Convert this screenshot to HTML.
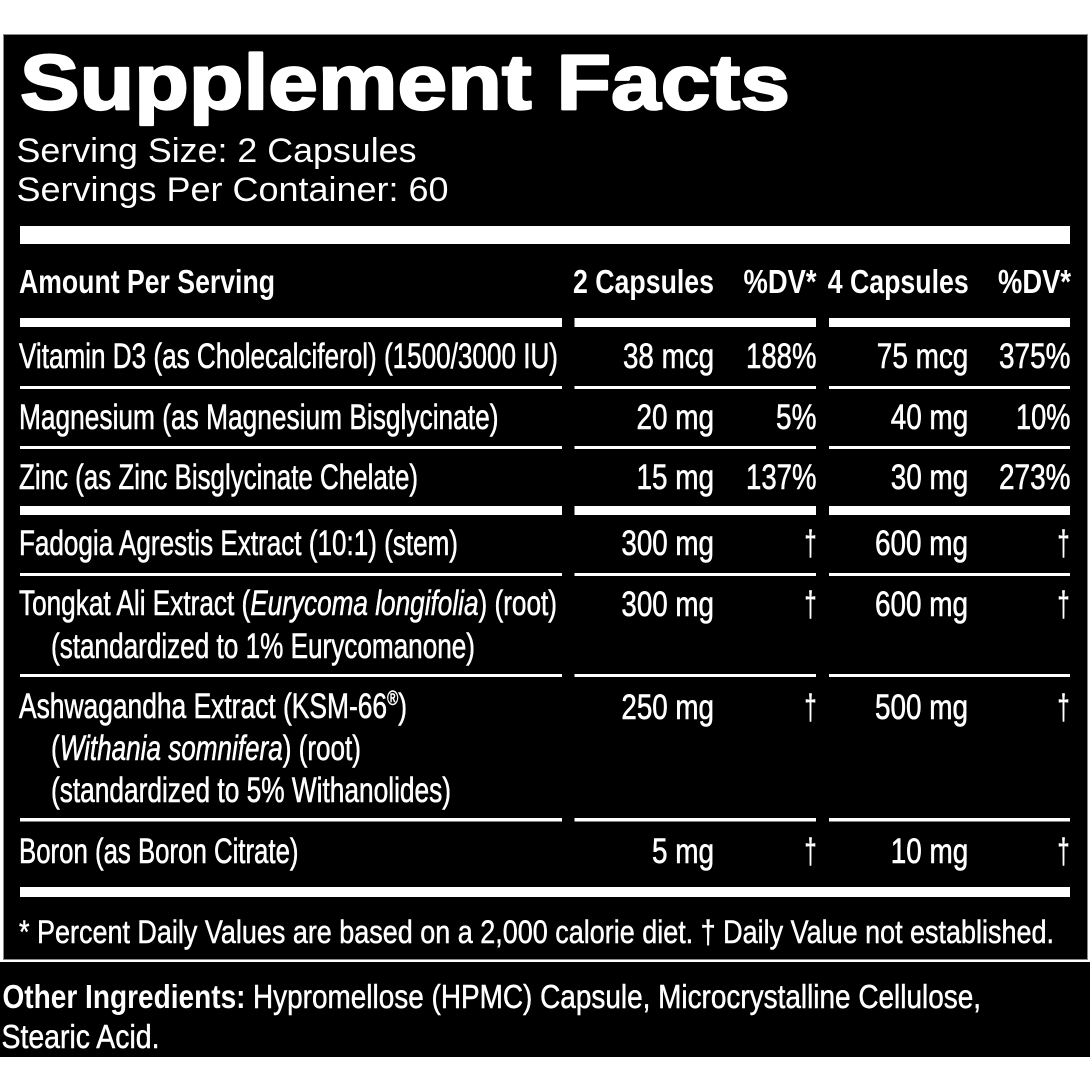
<!DOCTYPE html>
<html>
<head>
<meta charset="utf-8">
<style>
  html,body{margin:0;padding:0;background:#fff;}
  svg{display:block;}
  .c{font-family:"Liberation Sans Narrow","Liberation Sans",Arial,sans-serif;fill:#fff;}
  .r{font-size:35px;stroke:#fff;stroke-width:0.6px;}
  .f{stroke:#fff;stroke-width:0.5px;}
  .b{font-weight:bold;}
  .h{font-family:"Liberation Sans",Arial,sans-serif;fill:#fff;}
</style>
</head>
<body>
<svg width="1090" height="1090" viewBox="0 0 1090 1090" xmlns="http://www.w3.org/2000/svg">
  <rect x="0" y="0" width="1090" height="1090" fill="#fff"/>
  <rect x="3.5" y="34.5" width="1084" height="925" fill="#000" stroke="#8a8a8a" stroke-width="1"/>
  <rect x="0" y="962" width="1090" height="95" fill="#000"/>

  <text class="h" x="20" y="109" font-size="78" font-weight="bold" stroke="#fff" stroke-width="2.2" stroke-linejoin="round" textLength="770" lengthAdjust="spacingAndGlyphs">Supplement Facts</text>
  <text class="h" x="16.5" y="162" font-size="34" textLength="400" lengthAdjust="spacingAndGlyphs">Serving Size: 2 Capsules</text>
  <text class="h" x="16.5" y="201" font-size="34" textLength="432" lengthAdjust="spacingAndGlyphs">Servings Per Container: 60</text>

  <rect x="20" y="226" width="1050" height="18" fill="#fff"/>

  <text class="c b" x="19" y="293" font-size="33" textLength="256" lengthAdjust="spacingAndGlyphs">Amount Per Serving</text>
  <text class="c b" x="573" y="293" font-size="33" textLength="141" lengthAdjust="spacingAndGlyphs">2 Capsules</text>
  <text class="c b" x="743.5" y="293" font-size="33" textLength="73" lengthAdjust="spacingAndGlyphs">%DV*</text>
  <text class="c b" x="827.7" y="293" font-size="33" textLength="141" lengthAdjust="spacingAndGlyphs">4 Capsules</text>
  <text class="c b" x="998" y="293" font-size="33" textLength="73" lengthAdjust="spacingAndGlyphs">%DV*</text>

  <rect x="20" y="318" width="542" height="9" fill="#fff"/>
  <rect x="574.5" y="318" width="241.5" height="9" fill="#fff"/>
  <rect x="829" y="318" width="241" height="9" fill="#fff"/>

  <text class="c r" x="19" y="368" textLength="539" lengthAdjust="spacingAndGlyphs">Vitamin D3 (as Cholecalciferol) (1500/3000 IU)</text>
  <text class="c r" x="623" y="368" textLength="91" lengthAdjust="spacingAndGlyphs">38 mcg</text>
  <text class="c r" x="746" y="368" textLength="70.5" lengthAdjust="spacingAndGlyphs">188%</text>
  <text class="c r" x="876.8" y="368" textLength="91.5" lengthAdjust="spacingAndGlyphs">75 mcg</text>
  <text class="c r" x="999" y="368" textLength="71.5" lengthAdjust="spacingAndGlyphs">375%</text>

  <rect x="20" y="386" width="542" height="3" fill="#fff"/>
  <rect x="574.5" y="386" width="241.5" height="3" fill="#fff"/>
  <rect x="829" y="386" width="241" height="3" fill="#fff"/>

  <text class="c r" x="19" y="429" textLength="479.5" lengthAdjust="spacingAndGlyphs">Magnesium (as Magnesium Bisglycinate)</text>
  <text class="c r" x="636.5" y="429" textLength="77.5" lengthAdjust="spacingAndGlyphs">20 mg</text>
  <text class="c r" x="776" y="429" textLength="40.5" lengthAdjust="spacingAndGlyphs">5%</text>
  <text class="c r" x="890.8" y="429" textLength="77.5" lengthAdjust="spacingAndGlyphs">40 mg</text>
  <text class="c r" x="1016" y="429" textLength="54.5" lengthAdjust="spacingAndGlyphs">10%</text>

  <rect x="20" y="446" width="542" height="3" fill="#fff"/>
  <rect x="574.5" y="446" width="241.5" height="3" fill="#fff"/>
  <rect x="829" y="446" width="241" height="3" fill="#fff"/>

  <text class="c r" x="19" y="489" textLength="399" lengthAdjust="spacingAndGlyphs">Zinc (as Zinc Bisglycinate Chelate)</text>
  <text class="c r" x="636.5" y="489" textLength="77.5" lengthAdjust="spacingAndGlyphs">15 mg</text>
  <text class="c r" x="746" y="489" textLength="70.5" lengthAdjust="spacingAndGlyphs">137%</text>
  <text class="c r" x="890.8" y="489" textLength="77.5" lengthAdjust="spacingAndGlyphs">30 mg</text>
  <text class="c r" x="999" y="489" textLength="71.5" lengthAdjust="spacingAndGlyphs">273%</text>

  <rect x="20" y="506" width="542" height="9" fill="#fff"/>
  <rect x="574.5" y="506" width="241.5" height="9" fill="#fff"/>
  <rect x="829" y="506" width="241" height="9" fill="#fff"/>

  <text class="c r" x="19" y="555" textLength="439" lengthAdjust="spacingAndGlyphs">Fadogia Agrestis Extract (10:1) (stem)</text>
  <text class="c r" x="621.4" y="555" textLength="92.5" lengthAdjust="spacingAndGlyphs">300 mg</text>
  <text class="c r" x="810.5" y="555" text-anchor="middle" textLength="12" lengthAdjust="spacingAndGlyphs">†</text>
  <text class="c r" x="875" y="555" textLength="93" lengthAdjust="spacingAndGlyphs">600 mg</text>
  <text class="c r" x="1063.5" y="555" text-anchor="middle" textLength="12" lengthAdjust="spacingAndGlyphs">†</text>

  <rect x="20" y="573" width="542" height="3" fill="#fff"/>
  <rect x="574.5" y="573" width="241.5" height="3" fill="#fff"/>
  <rect x="829" y="573" width="241" height="3" fill="#fff"/>

  <text class="c r" x="19" y="615" textLength="538" lengthAdjust="spacingAndGlyphs">Tongkat Ali Extract (<tspan font-style="italic">Eurycoma longifolia</tspan>) (root)</text>
  <text class="c r" x="51" y="658" textLength="424" lengthAdjust="spacingAndGlyphs">(standardized to 1% Eurycomanone)</text>
  <text class="c r" x="621.4" y="616" textLength="92.5" lengthAdjust="spacingAndGlyphs">300 mg</text>
  <text class="c r" x="810.5" y="616" text-anchor="middle" textLength="12" lengthAdjust="spacingAndGlyphs">†</text>
  <text class="c r" x="875" y="616" textLength="93" lengthAdjust="spacingAndGlyphs">600 mg</text>
  <text class="c r" x="1063.5" y="616" text-anchor="middle" textLength="12" lengthAdjust="spacingAndGlyphs">†</text>

  <rect x="20" y="674" width="542" height="3" fill="#fff"/>
  <rect x="574.5" y="674" width="241.5" height="3" fill="#fff"/>
  <rect x="829" y="674" width="241" height="3" fill="#fff"/>

  <text class="c r" x="19" y="718" textLength="388" lengthAdjust="spacingAndGlyphs">Ashwagandha Extract (KSM-66<tspan font-size="20" dy="-13">®</tspan><tspan dy="13">)</tspan></text>
  <text class="c r" x="51" y="760" textLength="310" lengthAdjust="spacingAndGlyphs">(<tspan font-style="italic">Withania somnifera</tspan>) (root)</text>
  <text class="c r" x="51" y="802" textLength="400" lengthAdjust="spacingAndGlyphs">(standardized to 5% Withanolides)</text>
  <text class="c r" x="621.4" y="719" textLength="92.5" lengthAdjust="spacingAndGlyphs">250 mg</text>
  <text class="c r" x="810.5" y="719" text-anchor="middle" textLength="12" lengthAdjust="spacingAndGlyphs">†</text>
  <text class="c r" x="875" y="719" textLength="93" lengthAdjust="spacingAndGlyphs">500 mg</text>
  <text class="c r" x="1063.5" y="719" text-anchor="middle" textLength="12" lengthAdjust="spacingAndGlyphs">†</text>

  <rect x="20" y="818" width="542" height="3.5" fill="#fff"/>
  <rect x="574.5" y="818" width="241.5" height="3.5" fill="#fff"/>
  <rect x="829" y="818" width="241" height="3.5" fill="#fff"/>

  <text class="c r" x="19" y="863" textLength="279.5" lengthAdjust="spacingAndGlyphs">Boron (as Boron Citrate)</text>
  <text class="c r" x="652" y="863" textLength="62" lengthAdjust="spacingAndGlyphs">5 mg</text>
  <text class="c r" x="810.5" y="863" text-anchor="middle" textLength="12" lengthAdjust="spacingAndGlyphs">†</text>
  <text class="c r" x="890.8" y="863" textLength="77.5" lengthAdjust="spacingAndGlyphs">10 mg</text>
  <text class="c r" x="1063.5" y="863" text-anchor="middle" textLength="12" lengthAdjust="spacingAndGlyphs">†</text>

  <rect x="20" y="887" width="1050" height="10" fill="#fff"/>

  <text class="c f" x="19" y="943" font-size="32" textLength="1035" lengthAdjust="spacingAndGlyphs">* Percent Daily Values are based on a 2,000 calorie diet. † Daily Value not established.</text>

  <text class="c b" x="2.5" y="1008" font-size="33" textLength="243" lengthAdjust="spacingAndGlyphs">Other Ingredients:</text>
  <text class="c f" x="253" y="1008" font-size="33" textLength="728" lengthAdjust="spacingAndGlyphs">Hypromellose (HPMC) Capsule, Microcrystalline Cellulose,</text>
  <text class="c f" x="1.5" y="1048" font-size="33" textLength="158" lengthAdjust="spacingAndGlyphs">Stearic Acid.</text>
</svg>
</body>
</html>
